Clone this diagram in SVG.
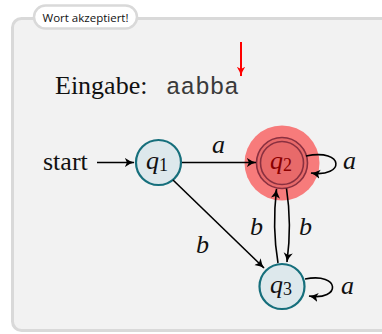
<svg xmlns="http://www.w3.org/2000/svg" width="382" height="334" viewBox="0 0 382 334">
<defs>
<style>
.math{font-family:"Liberation Serif","DejaVu Serif",serif;font-style:italic;font-size:26px;fill:#111}
.sub{font-style:normal;font-size:18px}
.edge{fill:none;stroke:#000;stroke-width:1.6}
.st{fill:#dde8ec;stroke:#166f7c;stroke-width:2.2}
</style>
<marker id="ah" viewBox="0 0 12 12" refX="11" refY="6" markerWidth="10" markerHeight="10" orient="auto" markerUnits="userSpaceOnUse">
<path d="M0,0.5 Q6,5 11.5,6 Q6,7 0,11.5 L2.5,6 Z" fill="#000"/>
</marker>
<marker id="ahr" viewBox="0 0 12 12" refX="11" refY="6" markerWidth="10" markerHeight="10" orient="auto" markerUnits="userSpaceOnUse">
<path d="M0,1 Q6,5 11.5,6 Q6,7 0,11 L2.5,6 Z" fill="#f00"/>
</marker>
</defs>
<rect width="382" height="334" fill="#ffffff"/>
<rect x="12.5" y="18.5" width="390" height="312" rx="9" fill="#f2f2f2" stroke="#d9d9d9" stroke-width="3"/>
<g id="tab">
<rect x="34" y="5.5" width="103" height="23" rx="11.5" fill="#fff" stroke="#d9d9d9" stroke-width="2.5"/>
<text x="85.5" y="22" text-anchor="middle" font-family="'Open Sans','Noto Sans',sans-serif" font-size="11.5" fill="#111">Wort akzeptiert!</text>
</g>
<g id="input">
<text x="55" y="94" font-family="'Liberation Serif',serif" font-size="26" fill="#111">Eingabe:</text>
<text x="166" y="94" font-family="'Liberation Mono',monospace" font-size="24.3" fill="#3a3a3a">aabba</text>
<line x1="241" y1="42" x2="241" y2="76" stroke="#f00" stroke-width="2" marker-end="url(#ahr)"/>
</g>
<g id="q1">
<circle class="st" cx="158.5" cy="162.5" r="22.5"/>
<text class="math" x="146" y="169">q<tspan class="sub" dy="2">1</tspan></text>
</g>
<g id="q2">
<circle cx="282" cy="163" r="37.5" fill="#f77b7b"/>
<circle cx="282" cy="163" r="25.5" fill="#e86a6a" stroke="#8a3040" stroke-width="1.6"/>
<circle cx="282" cy="163" r="21.5" fill="none" stroke="#8a3040" stroke-width="1.6"/>
<text class="math" x="270" y="169" style="fill:#8b0000">q<tspan class="sub" dy="2">2</tspan></text>
</g>
<g id="q3">
<circle class="st" cx="282" cy="286.5" r="22.5"/>
<text class="math" x="270" y="293">q<tspan class="sub" dy="2">3</tspan></text>
</g>
<g id="connectors">
<line class="edge" x1="97" y1="162.5" x2="134" y2="162.5" marker-end="url(#ah)"/>
<line class="edge" x1="182" y1="162.5" x2="256" y2="162.5" marker-end="url(#ah)"/>
<line class="edge" x1="173" y1="180" x2="264" y2="268" marker-end="url(#ah)"/>
<path class="edge" d="M278,263 Q272,228 276.5,189" marker-end="url(#ah)"/>
<path class="edge" d="M286.5,188.5 Q292,224 287,262" marker-end="url(#ah)"/>
<path class="edge" d="M306,156 C345,148 345,178 311,173" marker-end="url(#ah)"/>
<path class="edge" d="M305,279 C341,272 341,301 309,296" marker-end="url(#ah)"/>
<text class="math" x="212" y="153">a</text>
<text class="math" x="343" y="169">a</text>
<text class="math" x="196" y="253">b</text>
<text class="math" x="250" y="235">b</text>
<text class="math" x="299" y="235">b</text>
<text class="math" x="341" y="294">a</text>
<text x="43" y="170" font-family="'Liberation Serif',serif" font-size="26" fill="#111">start</text>
</g>
</svg>
